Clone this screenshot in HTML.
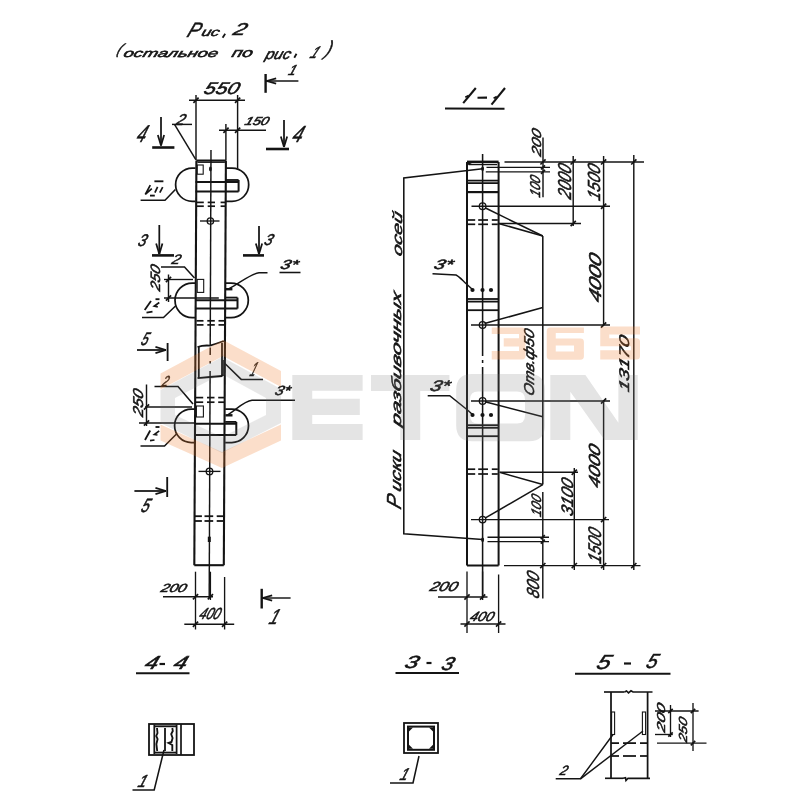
<!DOCTYPE html>
<html><head><meta charset="utf-8"><title>Рис.2</title>
<style>
html,body{margin:0;padding:0;background:#fff;width:800px;height:800px;overflow:hidden}
svg{display:block}
text{font-family:"Liberation Sans",sans-serif;font-style:italic;fill:#141414;stroke:#141414}
</style></head><body>
<svg width="800" height="800" viewBox="0 0 800 800">
<rect width="800" height="800" fill="#fff"/>
<g stroke="#141414" fill="none" stroke-linecap="butt">
<g id="left">
<line x1="196.4" y1="160.6" x2="194.3" y2="565.2" stroke-width="2.1" />
<line x1="225.9" y1="160.6" x2="223.8" y2="565.2" stroke-width="2.1" />
<line x1="196.4" y1="160.6" x2="225.9" y2="160.6" stroke-width="2.2" />
<line x1="197.4" y1="162.3" x2="224.9" y2="162.3" stroke-width="1.25" />
<line x1="194.3" y1="565.2" x2="223.8" y2="565.2" stroke-width="2.1" />
<line x1="211.0" y1="150" x2="210.21" y2="346" stroke-width="1.45" />
<line x1="210.21" y1="347.5" x2="210.18" y2="355" stroke-width="1.45" />
<line x1="210.15" y1="361" x2="210.14" y2="363.5" stroke-width="1.45" />
<line x1="210.11" y1="371" x2="209.2" y2="598" stroke-width="1.45" />
<path d="M195.5,168 H192.3 A16.700000000000003,16.700000000000003 0 0 0 192.3,201.4 H195.5" stroke-width="1.75" />
<path d="M225.2,168 H232.0 A16.700000000000003,16.700000000000003 0 0 1 232.0,201.4 H225.2" stroke-width="1.75" />
<rect x="197.2" y="165" width="6" height="9.2" stroke-width="1.1"/>
<ellipse cx="210.4" cy="169" rx="1.4" ry="2.4" fill="#141414" stroke="none"/>
<line x1="225.2" y1="180" x2="238.6" y2="180" stroke-width="1.85" />
<line x1="195.5" y1="182" x2="238.6" y2="182" stroke-width="2.0" />
<line x1="238.6" y1="180" x2="238.6" y2="191.6" stroke-width="2.0" />
<line x1="195.5" y1="191.6" x2="238.6" y2="191.6" stroke-width="2.0" />
<line x1="197" y1="202.4" x2="203.8" y2="202.4" stroke-width="1.7" />
<line x1="207.7" y1="202.4" x2="215" y2="202.4" stroke-width="1.7" />
<line x1="220.6" y1="202.4" x2="226" y2="202.4" stroke-width="1.7" />
<line x1="197" y1="206.2" x2="203.8" y2="206.2" stroke-width="1.7" />
<line x1="207.7" y1="206.2" x2="215" y2="206.2" stroke-width="1.7" />
<line x1="220.6" y1="206.2" x2="226" y2="206.2" stroke-width="1.7" />
<circle cx="210.4" cy="221" r="3.2" stroke-width="1.3"/>
<line x1="200" y1="221" x2="219.5" y2="221" stroke-width="1.35" />
<path d="M195.5,283 H192.3 A17.30000000000001,17.30000000000001 0 0 0 192.3,317.6 H195.5" stroke-width="1.75" />
<path d="M225.2,283 H231.0 A17.30000000000001,17.30000000000001 0 0 1 231.0,317.6 H225.2" stroke-width="1.75" />
<rect x="197.2" y="279.4" width="6.5" height="13" stroke-width="1.1"/>
<line x1="225.2" y1="297.6" x2="237.5" y2="297.6" stroke-width="1.85" />
<line x1="195.5" y1="300.3" x2="237.5" y2="300.3" stroke-width="2.0" />
<line x1="237.5" y1="297.6" x2="237.5" y2="308.6" stroke-width="2.0" />
<line x1="195.5" y1="308.6" x2="237.5" y2="308.6" stroke-width="2.0" />
<line x1="225.6" y1="289.2" x2="232.4" y2="289.2" stroke-width="2.4" />
<line x1="196.5" y1="320.8" x2="203.5" y2="320.8" stroke-width="1.7" />
<line x1="207.3" y1="320.8" x2="214.8" y2="320.8" stroke-width="1.7" />
<line x1="218.5" y1="320.8" x2="225" y2="320.8" stroke-width="1.7" />
<line x1="196.5" y1="324.9" x2="203.5" y2="324.9" stroke-width="1.7" />
<line x1="207.3" y1="324.9" x2="214.8" y2="324.9" stroke-width="1.7" />
<line x1="218.5" y1="324.9" x2="225" y2="324.9" stroke-width="1.7" />
<line x1="198.8" y1="347" x2="198.8" y2="378" stroke-width="1.8" />
<line x1="222" y1="343" x2="222" y2="376" stroke-width="1.8" />
<line x1="223.2" y1="360" x2="223.2" y2="376" stroke-width="1.25" />
<path d="M197.5,347 Q203,345 210,345.6 Q217,343.5 223.8,341" stroke-width="1.85" />
<path d="M197.5,378.2 Q210,376.8 222.5,376" stroke-width="1.85" />
<path d="M195.5,409 H191.35 A16.75,16.75 0 0 0 191.35,442.5 H195.5" stroke-width="1.75" />
<path d="M225.2,409 H231.75 A16.75,16.75 0 0 1 231.75,442.5 H225.2" stroke-width="1.75" />
<rect x="196.4" y="406" width="7" height="11" stroke-width="1.1"/>
<line x1="225.2" y1="421.9" x2="236.3" y2="421.9" stroke-width="1.85" />
<line x1="195.5" y1="423.8" x2="236.3" y2="423.8" stroke-width="2.0" />
<line x1="236.3" y1="421.9" x2="236.3" y2="435" stroke-width="2.0" />
<line x1="195.5" y1="435" x2="236.3" y2="435" stroke-width="2.0" />
<line x1="225.4" y1="415.3" x2="232.5" y2="415.3" stroke-width="2.4" />
<line x1="196" y1="397.6" x2="203.2" y2="397.6" stroke-width="1.7" />
<line x1="207" y1="397.6" x2="214.5" y2="397.6" stroke-width="1.7" />
<line x1="218.2" y1="397.6" x2="224.6" y2="397.6" stroke-width="1.7" />
<line x1="196" y1="402.2" x2="203.2" y2="402.2" stroke-width="1.7" />
<line x1="207" y1="402.2" x2="214.5" y2="402.2" stroke-width="1.7" />
<line x1="218.2" y1="402.2" x2="224.6" y2="402.2" stroke-width="1.7" />
<circle cx="209.5" cy="471.4" r="3.3" stroke-width="1.3"/>
<line x1="198.5" y1="471.4" x2="220.5" y2="471.4" stroke-width="1.35" />
<line x1="194.9" y1="516.2" x2="201.9" y2="516.2" stroke-width="1.8" />
<line x1="204.5" y1="516.2" x2="213.2" y2="516.2" stroke-width="1.8" />
<line x1="216.7" y1="516.2" x2="223.8" y2="516.2" stroke-width="1.8" />
<line x1="194.9" y1="521" x2="201.9" y2="521" stroke-width="1.8" />
<line x1="204.5" y1="521" x2="213.2" y2="521" stroke-width="1.8" />
<line x1="216.7" y1="521" x2="223.8" y2="521" stroke-width="1.8" />
<line x1="209.3" y1="536.7" x2="209.3" y2="542" stroke-width="3.0" />
<line x1="189" y1="100.2" x2="245" y2="100.2" stroke-width="1.45" />
<line x1="193.4" y1="102.8" x2="198.6" y2="97.60000000000001" stroke-width="1.65" />
<line x1="235.0" y1="102.8" x2="240.2" y2="97.60000000000001" stroke-width="1.65" />
<line x1="196" y1="95" x2="196" y2="160" stroke-width="1.45" />
<line x1="237.6" y1="95" x2="237.6" y2="168.5" stroke-width="1.45" />
<line x1="219" y1="130.2" x2="266" y2="130.2" stroke-width="1.45" />
<line x1="223.4" y1="132.79999999999998" x2="228.6" y2="127.6" stroke-width="1.65" />
<line x1="235.0" y1="132.79999999999998" x2="240.2" y2="127.6" stroke-width="1.65" />
<line x1="225.9" y1="124" x2="225.9" y2="160" stroke-width="1.45" />
<polyline points="192,124.4 172,124.4" stroke-width="1.45" />
<line x1="174.5" y1="124.4" x2="195.8" y2="159.6" stroke-width="1.45" />
<line x1="265.6" y1="74" x2="265.6" y2="92.8" stroke-width="2.4" />
<line x1="266" y1="81" x2="298.4" y2="81" stroke-width="1.45" />
<line x1="266.5" y1="81" x2="276.14" y2="83.67" stroke-width="1.65" />
<line x1="266.5" y1="81" x2="276.14" y2="78.33" stroke-width="1.65" />
<line x1="161" y1="117" x2="161" y2="145.5" stroke-width="1.75" />
<line x1="161" y1="145.5" x2="164.15" y2="134.96" stroke-width="1.75" />
<line x1="161" y1="145.5" x2="157.85" y2="134.96" stroke-width="1.75" />
<line x1="152.2" y1="147.5" x2="174.4" y2="147.5" stroke-width="2.6" />
<line x1="284" y1="120" x2="284" y2="147" stroke-width="1.75" />
<line x1="284" y1="147" x2="287.15" y2="136.46" stroke-width="1.75" />
<line x1="284" y1="147" x2="280.85" y2="136.46" stroke-width="1.75" />
<line x1="266" y1="149" x2="289" y2="149" stroke-width="2.6" />
<polyline points="140.6,200.3 165,200.3 175.4,189.5" stroke-width="1.55" />
<line x1="159.3" y1="225" x2="159.3" y2="254" stroke-width="1.75" />
<line x1="159.3" y1="254" x2="162.45" y2="243.46" stroke-width="1.75" />
<line x1="159.3" y1="254" x2="156.15" y2="243.46" stroke-width="1.75" />
<line x1="152" y1="255.4" x2="174" y2="255.4" stroke-width="2.6" />
<line x1="259" y1="226" x2="259" y2="254" stroke-width="1.75" />
<line x1="259" y1="254" x2="262.15" y2="243.46" stroke-width="1.75" />
<line x1="259" y1="254" x2="255.85" y2="243.46" stroke-width="1.75" />
<line x1="243" y1="255.4" x2="264" y2="255.4" stroke-width="2.6" />
<polyline points="161,267 184.5,267 194.5,278" stroke-width="1.55" />
<line x1="168.5" y1="274.5" x2="168.5" y2="302" stroke-width="1.45" />
<line x1="165.9" y1="282.1" x2="171.1" y2="276.9" stroke-width="1.65" />
<line x1="165.9" y1="300.6" x2="171.1" y2="295.4" stroke-width="1.65" />
<line x1="164" y1="279.5" x2="193" y2="279.5" stroke-width="1.35" />
<line x1="164" y1="298" x2="218.8" y2="298" stroke-width="1.35" />
<path d="M228.6,289 C240,283 250,274 259,272.7 L267.5,272.7" stroke-width="1.45" />
<line x1="279.5" y1="272.5" x2="300.5" y2="272.5" stroke-width="1.55" />
<polyline points="142,317.5 163.5,317.5 175.5,306" stroke-width="1.55" />
<line x1="137" y1="350" x2="166" y2="350" stroke-width="1.75" />
<line x1="166" y1="350" x2="155.46" y2="346.85" stroke-width="1.75" />
<line x1="166" y1="350" x2="155.46" y2="353.15" stroke-width="1.75" />
<line x1="167.6" y1="343" x2="167.6" y2="361" stroke-width="1.85" />
<polyline points="224.4,363 241.2,379.4 263,379.4" stroke-width="1.55" />
<polyline points="154.5,386.5 178,386.5 193,404" stroke-width="1.55" />
<line x1="146.5" y1="384.5" x2="146.5" y2="426" stroke-width="1.45" />
<line x1="143.9" y1="409.6" x2="149.1" y2="404.4" stroke-width="1.65" />
<line x1="143.9" y1="425.6" x2="149.1" y2="420.4" stroke-width="1.65" />
<line x1="145" y1="407" x2="192" y2="407" stroke-width="1.35" />
<line x1="139" y1="423" x2="194" y2="423" stroke-width="1.35" />
<path d="M227.5,415 C236,410 244,401 252,400.3 L295,400.3" stroke-width="1.45" />
<polyline points="140.5,446 164.5,446 176.5,434" stroke-width="1.55" />
<line x1="134.4" y1="491" x2="166" y2="491" stroke-width="1.75" />
<line x1="166" y1="491" x2="155.46" y2="487.85" stroke-width="1.75" />
<line x1="166" y1="491" x2="155.46" y2="494.15" stroke-width="1.75" />
<line x1="167.2" y1="477" x2="167.2" y2="497" stroke-width="1.85" />
<line x1="195.5" y1="571.7" x2="195.5" y2="629.5" stroke-width="1.35" />
<line x1="210.4" y1="571.7" x2="210.4" y2="600" stroke-width="1.35" />
<line x1="224.6" y1="577" x2="224.6" y2="629.5" stroke-width="1.35" />
<line x1="163" y1="596.7" x2="213" y2="596.7" stroke-width="1.45" />
<line x1="192.9" y1="599.3000000000001" x2="198.1" y2="594.1" stroke-width="1.65" />
<line x1="207.8" y1="599.3000000000001" x2="213.0" y2="594.1" stroke-width="1.65" />
<line x1="184.3" y1="624.2" x2="234.2" y2="624.2" stroke-width="1.45" />
<line x1="192.9" y1="626.8000000000001" x2="198.1" y2="621.6" stroke-width="1.65" />
<line x1="222.0" y1="626.8000000000001" x2="227.2" y2="621.6" stroke-width="1.65" />
<line x1="261.7" y1="588.8" x2="261.7" y2="608.5" stroke-width="2.4" />
<line x1="262" y1="598" x2="290.6" y2="598" stroke-width="1.45" />
<line x1="262.5" y1="598" x2="272.14" y2="600.67" stroke-width="1.65" />
<line x1="262.5" y1="598" x2="272.14" y2="595.33" stroke-width="1.65" />
</g>
<g id="right">
<line x1="467.0" y1="161.9" x2="467.0" y2="565.5" stroke-width="2.0" />
<line x1="498.6" y1="161.9" x2="498.6" y2="565.5" stroke-width="2.0" />
<line x1="467.0" y1="161.9" x2="498.6" y2="161.9" stroke-width="2.6" />
<line x1="468.5" y1="164.6" x2="497.1" y2="164.6" stroke-width="1.25" />
<line x1="467.0" y1="565.5" x2="498.6" y2="565.5" stroke-width="2.0" />
<polygon points="467.0,161.9 474.0,161.9 467.0,165.4" fill="#141414" stroke="none"/>
<line x1="482.6" y1="154" x2="482.6" y2="356" stroke-width="1.55" />
<line x1="482.6" y1="360" x2="482.6" y2="363" stroke-width="1.55" />
<line x1="482.6" y1="367" x2="482.6" y2="598" stroke-width="1.55" />
<line x1="467.0" y1="180.6" x2="498.6" y2="180.6" stroke-width="1.75" />
<line x1="467.0" y1="183.1" x2="498.6" y2="183.1" stroke-width="1.75" />
<line x1="467.0" y1="192.1" x2="498.6" y2="192.1" stroke-width="2.2" />
<ellipse cx="482.6" cy="168.8" rx="1.4" ry="2.4" fill="#141414" stroke="none"/>
<circle cx="482.6" cy="206.2" r="3.3" stroke-width="1.3" fill="none"/>
<circle cx="482.6" cy="325" r="3.3" stroke-width="1.3" fill="none"/>
<circle cx="482.6" cy="401" r="3.3" stroke-width="1.3" fill="none"/>
<circle cx="482.6" cy="519.6" r="3.3" stroke-width="1.3" fill="none"/>
<line x1="467.8" y1="220" x2="475.2" y2="220" stroke-width="1.7" />
<line x1="478.2" y1="220" x2="488" y2="220" stroke-width="1.7" />
<line x1="491.8" y1="220" x2="497.8" y2="220" stroke-width="1.7" />
<line x1="467.8" y1="224.3" x2="475.2" y2="224.3" stroke-width="1.7" />
<line x1="478.2" y1="224.3" x2="488" y2="224.3" stroke-width="1.7" />
<line x1="491.8" y1="224.3" x2="497.8" y2="224.3" stroke-width="1.7" />
<line x1="467.8" y1="469.2" x2="475.2" y2="469.2" stroke-width="1.7" />
<line x1="478.2" y1="469.2" x2="488" y2="469.2" stroke-width="1.7" />
<line x1="491.8" y1="469.2" x2="497.8" y2="469.2" stroke-width="1.7" />
<line x1="467.8" y1="474" x2="475.2" y2="474" stroke-width="1.7" />
<line x1="478.2" y1="474" x2="488" y2="474" stroke-width="1.7" />
<line x1="491.8" y1="474" x2="497.8" y2="474" stroke-width="1.7" />
<circle cx="472.5" cy="290" r="2.1" fill="#141414" stroke="none"/>
<circle cx="482.5" cy="290" r="2.1" fill="#141414" stroke="none"/>
<circle cx="491" cy="290" r="2.1" fill="#141414" stroke="none"/>
<circle cx="472.5" cy="415" r="2.1" fill="#141414" stroke="none"/>
<circle cx="482.5" cy="415" r="2.1" fill="#141414" stroke="none"/>
<circle cx="491" cy="415" r="2.1" fill="#141414" stroke="none"/>
<line x1="467.0" y1="299" x2="498.6" y2="299" stroke-width="1.8" />
<line x1="467.0" y1="301.6" x2="498.6" y2="301.6" stroke-width="1.8" />
<line x1="467.0" y1="310.2" x2="498.6" y2="310.2" stroke-width="1.8" />
<line x1="467.0" y1="425.2" x2="498.6" y2="425.2" stroke-width="1.8" />
<line x1="467.0" y1="427.8" x2="498.6" y2="427.8" stroke-width="1.8" />
<line x1="467.0" y1="436.2" x2="498.6" y2="436.2" stroke-width="1.8" />
<polyline points="482.6,168.8 403.8,178 403.8,533.8 482.6,539.6" stroke-width="1.55" />
<ellipse cx="482.6" cy="539.8" rx="1.5" ry="2.2" fill="#141414" stroke="none"/>
<path d="M432.5,273.8 L456,275 C460,277 463,281 466.5,284 L472.5,289.5" stroke-width="1.45" />
<path d="M427.7,395.8 L449.7,395.8 L467.5,410 L472.5,414.5" stroke-width="1.45" />
<line x1="504.5" y1="161.9" x2="644" y2="161.9" stroke-width="1.45" />
<line x1="486.5" y1="167.3" x2="550" y2="167.3" stroke-width="1.35" />
<line x1="485.8" y1="171.8" x2="550" y2="171.8" stroke-width="1.35" />
<line x1="471.5" y1="206.2" x2="610" y2="206.2" stroke-width="1.45" />
<line x1="498.6" y1="223.5" x2="581" y2="223.5" stroke-width="1.45" />
<line x1="471" y1="325" x2="610" y2="325" stroke-width="1.45" />
<line x1="471" y1="401" x2="610" y2="401" stroke-width="1.45" />
<line x1="499.5" y1="472.3" x2="578" y2="472.3" stroke-width="1.45" />
<line x1="471" y1="519.6" x2="609" y2="519.6" stroke-width="1.45" />
<line x1="487.5" y1="537.2" x2="549" y2="537.2" stroke-width="1.35" />
<line x1="487.5" y1="541.6" x2="549" y2="541.6" stroke-width="1.35" />
<line x1="504" y1="565.6" x2="640.5" y2="565.6" stroke-width="1.45" />
<line x1="543" y1="137.5" x2="543" y2="197.2" stroke-width="1.45" />
<line x1="540.4" y1="164.5" x2="545.6" y2="159.3" stroke-width="1.65" />
<line x1="541" y1="169.3" x2="545" y2="165.3" stroke-width="1.65" />
<line x1="541" y1="173.8" x2="545" y2="169.8" stroke-width="1.65" />
<line x1="573.2" y1="156" x2="573.2" y2="226" stroke-width="1.45" />
<line x1="570.6" y1="164.5" x2="575.8000000000001" y2="159.3" stroke-width="1.65" />
<line x1="570.6" y1="226.1" x2="575.8000000000001" y2="220.9" stroke-width="1.65" />
<line x1="603.6" y1="156" x2="603.6" y2="325" stroke-width="1.45" />
<line x1="601.0" y1="164.5" x2="606.2" y2="159.3" stroke-width="1.65" />
<line x1="601.0" y1="208.79999999999998" x2="606.2" y2="203.6" stroke-width="1.65" />
<line x1="601.0" y1="327.6" x2="606.2" y2="322.4" stroke-width="1.65" />
<line x1="603.6" y1="401" x2="603.6" y2="570" stroke-width="1.45" />
<line x1="601.0" y1="403.6" x2="606.2" y2="398.4" stroke-width="1.65" />
<line x1="601.0" y1="522.2" x2="606.2" y2="517.0" stroke-width="1.65" />
<line x1="601.0" y1="568.2" x2="606.2" y2="563.0" stroke-width="1.65" />
<line x1="633.8" y1="155" x2="633.8" y2="570" stroke-width="1.45" />
<line x1="631.1999999999999" y1="164.5" x2="636.4" y2="159.3" stroke-width="1.65" />
<line x1="631.1999999999999" y1="568.2" x2="636.4" y2="563.0" stroke-width="1.65" />
<line x1="574.3" y1="468" x2="574.3" y2="570" stroke-width="1.45" />
<line x1="571.6999999999999" y1="474.90000000000003" x2="576.9" y2="469.7" stroke-width="1.65" />
<line x1="571.6999999999999" y1="568.2" x2="576.9" y2="563.0" stroke-width="1.65" />
<line x1="542.8" y1="492" x2="542.8" y2="598.5" stroke-width="1.45" />
<line x1="540.8" y1="539.2" x2="544.8" y2="535.2" stroke-width="1.65" />
<line x1="540.8" y1="543.6" x2="544.8" y2="539.6" stroke-width="1.65" />
<line x1="540.1999999999999" y1="568.2" x2="545.4" y2="563.0" stroke-width="1.65" />
<line x1="542.8" y1="236" x2="542.8" y2="484.6" stroke-width="1.55" />
<line x1="542.8" y1="236" x2="485" y2="207.8" stroke-width="1.55" />
<line x1="542.8" y1="236" x2="498.6" y2="223.5" stroke-width="1.55" />
<line x1="542.8" y1="307.5" x2="484.5" y2="323.6" stroke-width="1.55" />
<line x1="542.8" y1="416.8" x2="485" y2="401.8" stroke-width="1.55" />
<line x1="542.8" y1="484.6" x2="500.3" y2="472.5" stroke-width="1.55" />
<line x1="542.8" y1="484.6" x2="485" y2="518.2" stroke-width="1.55" />
<line x1="467.0" y1="571.5" x2="467.0" y2="633" stroke-width="1.35" />
<line x1="482.6" y1="571.5" x2="482.6" y2="600" stroke-width="1.35" />
<line x1="498.6" y1="574.5" x2="498.6" y2="633" stroke-width="1.35" />
<line x1="438" y1="597" x2="487.5" y2="597" stroke-width="1.45" />
<line x1="464.4" y1="599.6" x2="469.6" y2="594.4" stroke-width="1.65" />
<line x1="480.0" y1="599.6" x2="485.20000000000005" y2="594.4" stroke-width="1.65" />
<line x1="460.5" y1="624" x2="505.5" y2="624" stroke-width="1.45" />
<line x1="464.4" y1="626.6" x2="469.6" y2="621.4" stroke-width="1.65" />
<line x1="496.0" y1="626.6" x2="501.20000000000005" y2="621.4" stroke-width="1.65" />
</g>
<g id="sections">
<line x1="136" y1="673.2" x2="189.5" y2="673.2" stroke-width="2" />
<rect x="149" y="724" width="45" height="31" stroke-width="1.8"/>
<line x1="154.3" y1="724.5" x2="154.3" y2="754" stroke-width="1.75" />
<line x1="176.6" y1="724.5" x2="176.6" y2="754" stroke-width="1.75" />
<line x1="181" y1="724" x2="181" y2="755" stroke-width="1.7" />
<line x1="155" y1="726.3" x2="176" y2="726.3" stroke-width="1.85" />
<line x1="155" y1="752.6" x2="176" y2="752.6" stroke-width="1.85" />
<line x1="165" y1="728" x2="165" y2="751" stroke-width="1.8" />
<path d="M157,728 L157.5,733 L156.2,736 L157.6,739 L156.4,744 L157.2,751" stroke-width="1.85" />
<path d="M172.3,728 L172.8,731 L171.2,734 L172.6,738 L171.5,742 L168.5,743 L172.3,745 L172.3,751" stroke-width="1.85" />
<polyline points="164,750 154.2,790 132.5,790" stroke-width="1.55" />
<line x1="395.5" y1="673" x2="459" y2="673" stroke-width="2" />
<rect x="404" y="723" width="34" height="30" stroke-width="1.8"/>
<rect x="408" y="726.6" width="26" height="23.2" stroke-width="2"/>
<polygon points="409,727.6 413,727.6 409,731.6" fill="#141414" stroke="none"/>
<polygon points="433,727.6 429,727.6 433,731.6" fill="#141414" stroke="none"/>
<polygon points="409,748.8 413,748.8 409,744.8" fill="#141414" stroke="none"/>
<polygon points="433,748.8 429,748.8 433,744.8" fill="#141414" stroke="none"/>
<polyline points="419,756 413,783 390,783" stroke-width="1.55" />
<line x1="575" y1="673.8" x2="670.5" y2="673.8" stroke-width="2" />
<line x1="604" y1="692" x2="624.5" y2="692" stroke-width="1.65" />
<path d="M624.5,692 L626.5,691 L628.5,692.8 L631,690.8 L633,692 L652.5,692" stroke-width="1.65" />
<line x1="605" y1="778.3" x2="623" y2="778.3" stroke-width="1.65" />
<path d="M623,778.3 L625.5,777.8 L626,780.5 L628,778.3 L650,778.3" stroke-width="1.65" />
<line x1="611" y1="692" x2="611" y2="778" stroke-width="1.75" />
<line x1="647.6" y1="692" x2="647.6" y2="778" stroke-width="1.75" />
<rect x="611.6" y="712" width="3" height="22.5" stroke-width="1.1"/>
<rect x="642.4" y="712" width="3.2" height="22.5" stroke-width="1.1"/>
<line x1="611" y1="743.1" x2="619" y2="743.1" stroke-width="1.75" />
<line x1="623" y1="743.1" x2="636" y2="743.1" stroke-width="1.75" />
<line x1="640" y1="743.1" x2="647.6" y2="743.1" stroke-width="1.75" />
<line x1="611" y1="756" x2="619" y2="756" stroke-width="1.75" />
<line x1="623" y1="756" x2="636" y2="756" stroke-width="1.75" />
<line x1="640" y1="756" x2="647.6" y2="756" stroke-width="1.75" />
<polyline points="555.7,778.8 580.5,778.8 613,734.5" stroke-width="1.45" />
<line x1="580.5" y1="778.8" x2="643" y2="731" stroke-width="1.45" />
<line x1="655" y1="711" x2="698.6" y2="711" stroke-width="1.35" />
<line x1="655" y1="734.5" x2="672.8" y2="734.5" stroke-width="1.35" />
<line x1="657" y1="743.1" x2="706.5" y2="743.1" stroke-width="1.35" />
<line x1="670.5" y1="705" x2="670.5" y2="737" stroke-width="1.35" />
<line x1="668.3" y1="713.2" x2="672.7" y2="708.8" stroke-width="1.65" />
<line x1="668.3" y1="736.7" x2="672.7" y2="732.3" stroke-width="1.65" />
<line x1="693" y1="703" x2="693" y2="751" stroke-width="1.35" />
<line x1="690.8" y1="713.2" x2="695.2" y2="708.8" stroke-width="1.65" />
<line x1="690.8" y1="745.3000000000001" x2="695.2" y2="740.9" stroke-width="1.65" />
<line x1="445" y1="108.5" x2="504.5" y2="108.7" stroke-width="2.1" />
</g>
<line x1="225.2" y1="33.8" x2="222.6" y2="37.8" stroke-width="1.8" />
<line x1="296.5" y1="53.8" x2="294.3" y2="57.8" stroke-width="1.8" />
<path d="M150.3,185.2 L145.3,194.4 L151.8,188.6" stroke-width="1.7" />
<line x1="157.6" y1="186.9" x2="154.9" y2="192.6" stroke-width="1.7" />
<line x1="162.7" y1="187.2" x2="159.8" y2="192.6" stroke-width="1.7" />
<line x1="154.4" y1="181.3" x2="163.4" y2="181.3" stroke-width="1.85" />
<line x1="150" y1="195.6" x2="154.8" y2="195.6" stroke-width="1.85" />
<line x1="151" y1="301" x2="144.7" y2="310" stroke-width="1.8" />
<line x1="155.5" y1="299.2" x2="159.5" y2="299.2" stroke-width="1.85" />
<path d="M159.3,302.5 L154.3,306 L157.8,306.8" stroke-width="1.7" />
<line x1="146.5" y1="312.6" x2="152.5" y2="311.6" stroke-width="1.7" />
<line x1="150.2" y1="430.5" x2="145" y2="440" stroke-width="1.8" />
<line x1="155.5" y1="427" x2="159.5" y2="427" stroke-width="1.85" />
<path d="M159.2,430.8 L154.4,434.5 L157.5,435" stroke-width="1.7" />
<line x1="150" y1="440.6" x2="154.5" y2="440" stroke-width="1.7" />
<path d="M463.2,103.2 L475.8,88" stroke-width="2.1" />
<line x1="465.3" y1="97.2" x2="468.6" y2="95.6" stroke-width="1.8" />
<line x1="477.5" y1="97.8" x2="487" y2="97.6" stroke-width="2.1" />
<path d="M491.5,104.6 L505,88" stroke-width="2.1" />
<line x1="493.6" y1="98.2" x2="496.8" y2="96.6" stroke-width="1.8" />
<line x1="159.5" y1="664" x2="165" y2="664" stroke-width="2.2" />
<line x1="426.5" y1="663" x2="431.5" y2="663" stroke-width="2.2" />
<line x1="624" y1="663.5" x2="631" y2="663.5" stroke-width="2.2" />
</g>
<g style="filter:grayscale(1)">
<text id="t0" transform="translate(186.08,36.74) skewX(-22)" x="0" y="0" font-size="20.87" textLength="12.38" lengthAdjust="spacingAndGlyphs" style="stroke-width:0.55">Р</text>
<text id="t1" transform="translate(200.72,35.52) skewX(-18)" x="0" y="0" font-size="11.70" textLength="17.87" lengthAdjust="spacingAndGlyphs" style="stroke-width:0.55">ис</text>
<text id="t2" transform="translate(231.88,35.18) skewX(-22)" x="0" y="0" font-size="17.18" textLength="12.63" lengthAdjust="spacingAndGlyphs" style="stroke-width:0.55">2</text>
<text id="t3" transform="translate(116.30,53.64) skewX(-25)" x="0" y="0" font-size="14.50" textLength="3.94" lengthAdjust="spacingAndGlyphs" style="stroke-width:0.55">(</text>
<text id="t4" transform="translate(122.70,56.88) skewX(-18)" x="0" y="0" font-size="11.43" textLength="94.37" lengthAdjust="spacingAndGlyphs" style="stroke-width:0.55">остальное</text>
<text id="t5" transform="translate(231.00,56.70) skewX(-18)" x="0" y="0" font-size="12.98" textLength="20.56" lengthAdjust="spacingAndGlyphs" style="stroke-width:0.55">по</text>
<text id="t6" transform="translate(264.40,59.02) skewX(-18)" x="0" y="0" font-size="14.70" textLength="25.15" lengthAdjust="spacingAndGlyphs" style="stroke-width:0.55">рис</text>
<text id="t7" transform="translate(309.00,57.60) skewX(-28)" x="0" y="0" font-size="16.78" textLength="7.19" lengthAdjust="spacingAndGlyphs" style="stroke-width:0.55">1</text>
<text id="t8" transform="translate(324.50,54.74) skewX(-20)" x="0" y="0" font-size="20.02" textLength="5.70" lengthAdjust="spacingAndGlyphs" style="stroke-width:0.55">)</text>
<text id="t9" transform="translate(287.60,75.38) skewX(-20)" x="0" y="0" font-size="14.48" textLength="7.42" lengthAdjust="spacingAndGlyphs" style="stroke-width:0.55">1</text>
<text id="t10" transform="translate(202.86,93.94) skewX(-20)" x="0" y="0" font-size="16.78" textLength="34.56" lengthAdjust="spacingAndGlyphs" style="stroke-width:0.55">550</text>
<text id="t11" transform="translate(175.30,124.80) skewX(-20)" x="0" y="0" font-size="15.81" textLength="8.37" lengthAdjust="spacingAndGlyphs" style="stroke-width:0.55">2</text>
<text id="t12" transform="translate(244.00,124.70) skewX(-20)" x="0" y="0" font-size="11.65" textLength="23.76" lengthAdjust="spacingAndGlyphs" style="stroke-width:0.55">150</text>
<text id="t13" transform="translate(135.20,142.00) skewX(-20)" x="0" y="0" font-size="24.40" textLength="9.02" lengthAdjust="spacingAndGlyphs" style="stroke-width:0.55">4</text>
<text id="t14" transform="translate(291.10,141.80) skewX(-20)" x="0" y="0" font-size="23.12" textLength="9.87" lengthAdjust="spacingAndGlyphs" style="stroke-width:0.55">4</text>
<text id="t15" transform="translate(137.10,245.70) skewX(-20)" x="0" y="0" font-size="16.67" textLength="8.00" lengthAdjust="spacingAndGlyphs" style="stroke-width:0.55">3</text>
<text id="t16" transform="translate(263.30,245.10) skewX(-20)" x="0" y="0" font-size="15.78" textLength="8.05" lengthAdjust="spacingAndGlyphs" style="stroke-width:0.55">3</text>
<text id="t17" transform="translate(171.00,263.60) skewX(-20)" x="0" y="0" font-size="13.71" textLength="8.16" lengthAdjust="spacingAndGlyphs" style="stroke-width:0.55">2</text>
<text id="t18" transform="translate(160.00,291.86) rotate(-90) skewX(-20)" x="0" y="0" font-size="13.45" textLength="25.47" lengthAdjust="spacingAndGlyphs" style="stroke-width:0.55">250</text>
<text id="t19" transform="translate(279.60,269.10) skewX(-20)" x="0" y="0" font-size="13.08" textLength="17.09" lengthAdjust="spacingAndGlyphs" style="stroke-width:0.55">3*</text>
<text id="t20" transform="translate(140.10,345.10) skewX(-20)" x="0" y="0" font-size="18.14" textLength="6.86" lengthAdjust="spacingAndGlyphs" style="stroke-width:0.55">5</text>
<text id="t21" transform="translate(249.00,376.00) skewX(-20)" x="0" y="0" font-size="20.00" textLength="5.58" lengthAdjust="spacingAndGlyphs" style="stroke-width:0.55">1</text>
<text id="t22" transform="translate(161.50,385.80) skewX(-20)" x="0" y="0" font-size="14.48" textLength="5.59" lengthAdjust="spacingAndGlyphs" style="stroke-width:0.55">2</text>
<text id="t23" transform="translate(142.60,417.50) rotate(-90) skewX(-20)" x="0" y="0" font-size="14.25" textLength="26.66" lengthAdjust="spacingAndGlyphs" style="stroke-width:0.55">250</text>
<text id="t24" transform="translate(274.10,394.70) skewX(-20)" x="0" y="0" font-size="13.29" textLength="14.69" lengthAdjust="spacingAndGlyphs" style="stroke-width:0.55">3*</text>
<text id="t25" transform="translate(140.10,511.56) skewX(-20)" x="0" y="0" font-size="19.29" textLength="7.88" lengthAdjust="spacingAndGlyphs" style="stroke-width:0.55">5</text>
<text id="t26" transform="translate(160.00,592.10) skewX(-20)" x="0" y="0" font-size="11.83" textLength="25.32" lengthAdjust="spacingAndGlyphs" style="stroke-width:0.55">200</text>
<text id="t27" transform="translate(198.25,619.10) skewX(-20)" x="0" y="0" font-size="16.06" textLength="20.82" lengthAdjust="spacingAndGlyphs" style="stroke-width:0.55">400</text>
<text id="t28" transform="translate(268.00,624.00) skewX(-20)" x="0" y="0" font-size="21.43" textLength="8.89" lengthAdjust="spacingAndGlyphs" style="stroke-width:0.55">1</text>
<text id="t29" transform="translate(540.80,157.05) rotate(-90) skewX(-20)" x="0" y="0" font-size="13.08" textLength="26.76" lengthAdjust="spacingAndGlyphs" style="stroke-width:0.55">200</text>
<text id="t30" transform="translate(539.95,197.90) rotate(-90) skewX(-20)" x="0" y="0" font-size="14.28" textLength="20.49" lengthAdjust="spacingAndGlyphs" style="stroke-width:0.55">100</text>
<text id="t31" transform="translate(570.90,200.05) rotate(-90) skewX(-20)" x="0" y="0" font-size="18.61" textLength="33.82" lengthAdjust="spacingAndGlyphs" style="stroke-width:0.55">2000</text>
<text id="t32" transform="translate(600.10,201.40) rotate(-90) skewX(-20)" x="0" y="0" font-size="17.51" textLength="35.07" lengthAdjust="spacingAndGlyphs" style="stroke-width:0.55">1500</text>
<text id="t33" transform="translate(402.48,257.08) rotate(-90) skewX(-20)" x="0" y="0" font-size="13.36" textLength="43.88" lengthAdjust="spacingAndGlyphs" style="stroke-width:0.55">осей</text>
<text id="t34" transform="translate(401.48,427.20) rotate(-90) skewX(-20)" x="0" y="0" font-size="13.50" textLength="134.19" lengthAdjust="spacingAndGlyphs" style="stroke-width:0.55">разбивочных</text>
<text id="t35" transform="translate(401.00,510.00) rotate(-90) skewX(-20)" x="0" y="0" font-size="20.29" textLength="13.02" lengthAdjust="spacingAndGlyphs" style="stroke-width:0.55">Р</text>
<text id="t36" transform="translate(400.60,492.50) rotate(-90) skewX(-20)" x="0" y="0" font-size="15.00" textLength="40.39" lengthAdjust="spacingAndGlyphs" style="stroke-width:0.55">иски</text>
<text id="t37" transform="translate(433.10,269.10) skewX(-20)" x="0" y="0" font-size="13.55" textLength="18.52" lengthAdjust="spacingAndGlyphs" style="stroke-width:0.55">3*</text>
<text id="t38" transform="translate(600.90,303.35) rotate(-90) skewX(-20)" x="0" y="0" font-size="17.10" textLength="47.77" lengthAdjust="spacingAndGlyphs" style="stroke-width:0.55">4000</text>
<text id="t39" transform="translate(534.05,396.85) rotate(-90) skewX(-20)" x="0" y="0" font-size="14.27" textLength="65.91" lengthAdjust="spacingAndGlyphs" style="stroke-width:0.55">Отв.ф50</text>
<text id="t40" transform="translate(628.80,392.78) rotate(-90) skewX(-20)" x="0" y="0" font-size="14.04" textLength="55.54" lengthAdjust="spacingAndGlyphs" style="stroke-width:0.55">13170</text>
<text id="t41" transform="translate(429.05,390.70) skewX(-20)" x="0" y="0" font-size="15.31" textLength="19.14" lengthAdjust="spacingAndGlyphs" style="stroke-width:0.55">3*</text>
<text id="t42" transform="translate(541.45,517.55) rotate(-90) skewX(-20)" x="0" y="0" font-size="13.71" textLength="21.28" lengthAdjust="spacingAndGlyphs" style="stroke-width:0.55">100</text>
<text id="t43" transform="translate(572.85,516.95) rotate(-90) skewX(-20)" x="0" y="0" font-size="16.59" textLength="36.65" lengthAdjust="spacingAndGlyphs" style="stroke-width:0.55">3100</text>
<text id="t44" transform="translate(600.15,488.75) rotate(-90) skewX(-20)" x="0" y="0" font-size="16.02" textLength="42.32" lengthAdjust="spacingAndGlyphs" style="stroke-width:0.55">4000</text>
<text id="t45" transform="translate(600.65,564.45) rotate(-90) skewX(-20)" x="0" y="0" font-size="18.23" textLength="34.32" lengthAdjust="spacingAndGlyphs" style="stroke-width:0.55">1500</text>
<text id="t46" transform="translate(538.70,599.30) rotate(-90) skewX(-20)" x="0" y="0" font-size="17.35" textLength="25.74" lengthAdjust="spacingAndGlyphs" style="stroke-width:0.55">800</text>
<text id="t47" transform="translate(429.00,591.10) skewX(-20)" x="0" y="0" font-size="13.28" textLength="27.38" lengthAdjust="spacingAndGlyphs" style="stroke-width:0.55">200</text>
<text id="t48" transform="translate(468.95,621.10) skewX(-20)" x="0" y="0" font-size="13.29" textLength="23.54" lengthAdjust="spacingAndGlyphs" style="stroke-width:0.55">400</text>
<text id="t49" transform="translate(143.60,668.95) skewX(-20)" x="0" y="0" font-size="18.79" textLength="13.15" lengthAdjust="spacingAndGlyphs" style="stroke-width:0.55">4</text>
<text id="t50" transform="translate(172.25,669.00) skewX(-20)" x="0" y="0" font-size="18.71" textLength="13.18" lengthAdjust="spacingAndGlyphs" style="stroke-width:0.55">4</text>
<text id="t51" transform="translate(136.96,787.15) skewX(-20)" x="0" y="0" font-size="17.33" textLength="8.17" lengthAdjust="spacingAndGlyphs" style="stroke-width:0.55">1</text>
<text id="t52" transform="translate(403.60,668.10) skewX(-20)" x="0" y="0" font-size="17.47" textLength="13.48" lengthAdjust="spacingAndGlyphs" style="stroke-width:0.55">3</text>
<text id="t53" transform="translate(440.15,670.15) skewX(-20)" x="0" y="0" font-size="18.49" textLength="11.69" lengthAdjust="spacingAndGlyphs" style="stroke-width:0.55">3</text>
<text id="t54" transform="translate(399.00,780.00) skewX(-20)" x="0" y="0" font-size="17.14" textLength="7.72" lengthAdjust="spacingAndGlyphs" style="stroke-width:0.55">1</text>
<text id="t55" transform="translate(595.15,669.10) skewX(-20)" x="0" y="0" font-size="20.45" textLength="13.50" lengthAdjust="spacingAndGlyphs" style="stroke-width:0.55">5</text>
<text id="t56" transform="translate(645.05,668.10) skewX(-20)" x="0" y="0" font-size="20.26" textLength="10.70" lengthAdjust="spacingAndGlyphs" style="stroke-width:0.55">5</text>
<text id="t57" transform="translate(559.00,775.00) skewX(-20)" x="0" y="0" font-size="13.48" textLength="7.16" lengthAdjust="spacingAndGlyphs" style="stroke-width:0.55">2</text>
<text id="t58" transform="translate(665.15,733.00) rotate(-90) skewX(-20)" x="0" y="0" font-size="11.43" textLength="28.38" lengthAdjust="spacingAndGlyphs" style="stroke-width:0.55">200</text>
<text id="t59" transform="translate(686.95,743.00) rotate(-90) skewX(-20)" x="0" y="0" font-size="11.67" textLength="24.22" lengthAdjust="spacingAndGlyphs" style="stroke-width:0.55">250</text>
</g>
<g>
<g class="wmg" opacity="0.25">
<polygon points="160.5,373.5 223,340 281,371 281,387 223,356 160.5,389.5" fill="rgb(240,125,45)"/>
<polygon points="160.5,424.5 222,452 281,424.5 281,440.5 222,468 160.5,440.5" fill="rgb(240,125,45)"/>
<path d="M491.75,327.5 H522 Q525.5,327.5 525.5,331 V356 Q525.5,359.4 522,359.4 H491.75 V351 H519 V346.5 H503.75 V338.3 H519 V334 H491.75 Z" fill="rgb(240,125,45)"/>
<path fill-rule="evenodd" d="M550,327.5 H583.9 V333 H555.75 V338.4 H580.5 Q583.9,338.4 583.9,341.8 V356.3 Q583.9,359.75 580.5,359.75 H550.2 Q546.75,359.75 546.75,356.3 V331 Q546.75,327.5 550,327.5 Z M555.75,345.5 V351.5 H574 V345.5 Z" fill="rgb(240,125,45)"/>
<path d="M600.25,326.4 H640 V334.5 H609.25 V338.3 H636.5 Q640,338.3 640,341.8 V355.9 Q640,359.4 636.5,359.4 H600.25 V350.3 H631 V346.2 H600.25 Z" fill="rgb(240,125,45)"/>
</g>
<g class="wmg" opacity="0.20">
<path fill-rule="evenodd" d="M222,357 L281,389 L281,423 L222,453 L160.5,423 L160.5,390 Z M222,374 L266,398 L266,415 L222,437 L175,415 L175,398 Z" fill="rgb(120,120,120)" opacity="0.85"/>
<path d="M292.3,375 H362.6 V390.8 H312.2 V398.7 H359.8 V415 H312.2 V424 H362.6 V440 H292.3 Z" fill="rgb(120,120,120)"/>
<path d="M371,375 H449.4 V391 H420.2 V440 H400.2 V391 H371 Z" fill="rgb(120,120,120)"/>
<path fill-rule="evenodd" d="M472,374 H529 Q545,374 545,390 V425.3 Q545,441.3 529,441.3 H472 Q456.2,441.3 456.2,425.3 V390 Q456.2,374 472,374 Z M478,391.5 H517 Q525,391.5 525,399.5 V415.5 Q525,423.5 517,423.5 H478 Q470,423.5 470,415.5 V399.5 Q470,391.5 478,391.5 Z" fill="rgb(120,120,120)"/>
<polygon points="550.3,375 585.4,375 618.4,422.8 618.4,375 637.7,375 637.7,440 604.6,440 570.3,391.8 570.3,440 550.3,440" fill="rgb(120,120,120)"/>
</g>
</g>
</svg>
</body></html>
